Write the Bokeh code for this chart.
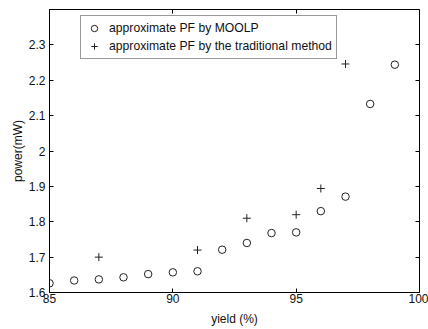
from bokeh.plotting import figure
from bokeh.models import LinearAxis, Range1d, Legend, LegendItem, FixedTicker
from bokeh.embed import file_html
from bokeh.resources import INLINE

# data
yield_moolp = [85, 86, 87, 88, 89, 90, 91, 92, 93, 94, 95, 96, 97, 98, 99]
power_moolp = [1.626, 1.634, 1.637, 1.643, 1.652, 1.657, 1.66, 1.721, 1.74, 1.768, 1.77, 1.83, 1.871, 2.133, 2.244]
yield_trad = [87, 91, 93, 95, 96, 97]
power_trad = [1.70, 1.72, 1.81, 1.82, 1.894, 2.246]
x_ticks = [85, 90, 95, 100]
y_ticks = [1.6, 1.7, 1.8, 1.9, 2.0, 2.1, 2.2, 2.3]
y_tick_labels = {1.6: "1.6", 1.7: "1.7", 1.8: "1.8", 1.9: "1.9", 2.0: "2", 2.1: "2.1", 2.2: "2.2", 2.3: "2.3"}

FONT = "Liberation Sans"

p = figure(width=428, height=329, output_backend="svg", toolbar_location=None,
           x_range=Range1d(85, 100), y_range=Range1d(1.6, 2.4),
           min_border_left=49, min_border_right=9, min_border_top=9, min_border_bottom=37,
           x_axis_label="yield (%)", y_axis_label="power(mW)")
p.grid.visible = False
p.outline_line_color = "black"
p.background_fill_color = "white"
p.border_fill_color = "white"

c = p.scatter(yield_moolp, power_moolp, marker="circle", size=7.5, fill_color=None,
              line_color="#222222", line_width=1)
t = p.scatter(yield_trad, power_trad, marker="cross", size=8, line_color="#222222", line_width=1)

for ax in (p.xaxis[0], p.yaxis[0]):
    ax.major_tick_in = 4
    ax.major_tick_out = 0
    ax.minor_tick_line_color = None
    ax.major_label_text_font = FONT
    ax.major_label_text_font_size = "12px"
    ax.major_label_text_color = "#111111"
    ax.axis_label_text_font = FONT
    ax.axis_label_text_font_size = "12px"
    ax.axis_label_text_font_style = "normal"
    ax.axis_label_text_color = "#111111"
    ax.axis_line_color = "black"
    ax.major_tick_line_color = "black"

p.xaxis[0].ticker = FixedTicker(ticks=x_ticks)
p.yaxis[0].ticker = FixedTicker(ticks=y_ticks)
p.yaxis[0].major_label_overrides = y_tick_labels
p.xaxis[0].major_label_standoff = 1
p.xaxis[0].axis_label_standoff = 6
p.yaxis[0].major_label_standoff = 4
p.yaxis[0].axis_label_standoff = 1

top = LinearAxis(ticker=FixedTicker(ticks=x_ticks), major_tick_in=4, major_tick_out=0,
                 major_label_overrides={k: "" for k in x_ticks}, major_label_standoff=0,
                 axis_label_standoff=0, minor_tick_line_color=None, axis_line_color=None)
right = LinearAxis(ticker=FixedTicker(ticks=y_ticks), major_tick_in=4, major_tick_out=0,
                   major_label_overrides={k: "" for k in y_ticks}, major_label_standoff=0,
                   axis_label_standoff=0, minor_tick_line_color=None, axis_line_color=None)
p.add_layout(top, "above")
p.add_layout(right, "right")

legend = Legend(items=[LegendItem(label="approximate PF by MOOLP", renderers=[c]),
                       LegendItem(label="approximate PF by the traditional method", renderers=[t])],
                location=(31, 233), label_text_font=FONT, label_text_font_size="12.2px",
                label_text_color="#111111", border_line_color="#333333", border_line_width=1,
                padding=4, spacing=2, label_standoff=6, glyph_width=18, glyph_height=16,
                label_height=16, margin=0, background_fill_alpha=1)
p.add_layout(legend, "center")

open("out.html", "w").write(file_html(p, INLINE))
